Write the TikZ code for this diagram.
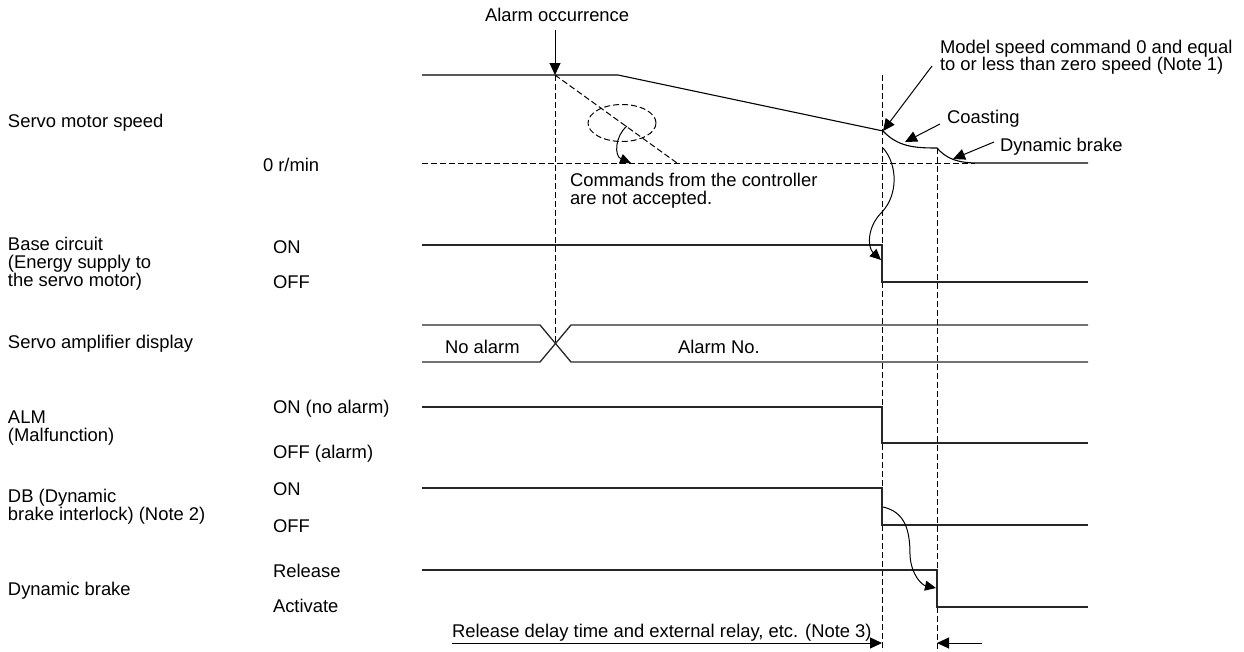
\documentclass[tikz,border=0pt]{standalone}
\usepackage{fontspec}
\setmainfont{Liberation Sans}
\usetikzlibrary{arrows.meta,shapes.geometric}
\begin{document}
\begin{tikzpicture}[x=1pt,y=-1pt,
  lbl/.style={inner sep=0pt, outer sep=0pt, anchor=base west, font=\fontsize{18.4}{18}\selectfont},
  sig/.style={line width=1.3pt, black!85},
  thin/.style={line width=1.1pt, black},
  dsh/.style={line width=1pt, dash pattern=on 6pt off 3pt},
  arr/.style={line width=1pt, -{Triangle[length=12pt,width=11pt]}},
  arrs/.style={line width=1pt, -{Triangle[length=11pt,width=10pt]}}]
\useasboundingbox (0,0) rectangle (1244,651);

% ---------- left labels ----------
\node[lbl] (l1) at (8,127) {Servo motor speed};
\node[lbl] (l2a) at (8,250) {Base circuit};
\node[lbl] (l2b) at (8,268) {(Energy supply to};
\node[lbl] (l2c) at (8,286) {the servo motor)};
\node[lbl] (l3) at (8,348) {Servo amplifier display};
\node[lbl] (l4a) at (8,423) {ALM};
\node[lbl] (l4b) at (8,441) {(Malfunction)};
\node[lbl] (l5a) at (8,502) {DB (Dynamic};
\node[lbl] (l5b) at (8,520) {brake interlock) (Note 2)};
\node[lbl] (l6) at (8,595) {Dynamic brake};

% ---------- level labels ----------
\node[lbl] (v0) at (263,171) {0 r/min};
\node[lbl] (v1) at (273,253) {ON};
\node[lbl] (v2) at (273,288) {OFF};
\node[lbl] (v3) at (273,413) {ON (no alarm)};
\node[lbl] (v4) at (273,458) {OFF (alarm)};
\node[lbl] (v5) at (273,495) {ON};
\node[lbl] (v6) at (273,532) {OFF};
\node[lbl] (v7) at (273,577) {Release};
\node[lbl] (v8) at (273,612) {Activate};

% ---------- key coordinates ----------
\coordinate (ta) at (555,75);     % alarm time on speed line
\coordinate (tx) at (555,343);    % display crossing
\coordinate (b1top) at (882,75);
\coordinate (b1bot) at (882,651);
\coordinate (b2top) at (937,148);
\coordinate (b2bot) at (937,651);

% ---------- dashed guides ----------
\draw[dsh] (ta) -- (tx);
\draw[dsh] (b1top) -- (b1bot);
\draw[dsh] (b2top) -- (b2bot);
\coordinate (z0) at (422,163);
\coordinate (z1) at (975,163);
\draw[dsh] (z0) -- (z1);
\coordinate (dg) at (677,163);
\draw[dsh] (ta) -- (dg);
\node[draw, dsh, ellipse, minimum width=68pt, minimum height=37pt, inner sep=0pt] (el) at (622,123) {};

% ---------- servo motor speed ----------
\coordinate (s0) at (422,75);
\coordinate (s1) at (618,75);
\coordinate (s2) at (883,131);
\coordinate (s3) at (937,148);
\coordinate (s4) at (978,163);
\coordinate (s5) at (1088,163);
\draw[thin] (s0) -- (s1) -- (s2) .. controls (898,147) and (915,148) .. (s3)
  .. controls (946,158) and (956,163) .. (s4) -- (s5);

% ---------- base circuit ----------
\coordinate (bc0) at (422,245);
\coordinate (bc1) at (882,245);
\coordinate (bc2) at (882,282);
\coordinate (bc3) at (1088,282);
\draw[sig] (bc0) -- (bc1) -- (bc2) -- (bc3);

% ---------- display ----------
\coordinate (d0) at (422,325);
\coordinate (d1) at (540,325);
\coordinate (d2) at (571,362);
\coordinate (d3) at (1088,362);
\coordinate (d4) at (422,362);
\coordinate (d5) at (540,362);
\coordinate (d6) at (571,325);
\coordinate (d7) at (1088,325);
\draw[sig] (d0) -- (d1) -- (d2) -- (d3);
\draw[sig] (d4) -- (d5) -- (d6) -- (d7);
\node[lbl] (na) at (445,353) {No alarm};
\node[lbl] (an) at (678,353) {Alarm No.};

% ---------- ALM ----------
\coordinate (a0) at (422,407);
\coordinate (a1) at (882,407);
\coordinate (a2) at (882,443);
\coordinate (a3) at (1088,443);
\draw[sig] (a0) -- (a1) -- (a2) -- (a3);

% ---------- DB ----------
\coordinate (db0) at (422,488);
\coordinate (db1) at (882,488);
\coordinate (db2) at (882,525);
\coordinate (db3) at (1088,525);
\draw[sig] (db0) -- (db1) -- (db2) -- (db3);

% ---------- dynamic brake ----------
\coordinate (dy0) at (422,570);
\coordinate (dy1) at (937,570);
\coordinate (dy2) at (937,607);
\coordinate (dy3) at (1088,607);
\draw[sig] (dy0) -- (dy1) -- (dy2) -- (dy3);

% ---------- annotations ----------
\node[lbl] (ao) at (485,21) {Alarm occurrence};
\coordinate (ao1) at (555,30);
\draw[arr] (ao1) -- (ta);

\node[lbl] (cm1) at (570,186) {Commands from the controller};
\node[lbl] (cm2) at (570,204) {are not accepted.};
\coordinate (el0) at (627,126);
\coordinate (el1) at (631,163);
\draw[arrs] (el0) .. controls (615,136) and (614,156) .. (el1);

\node[lbl] (md1) at (940,53) {Model speed command 0 and equal};
\node[lbl] (md2) at (940,70) {to or less than zero speed (Note 1)};
\coordinate (md0) at (932,66);
\draw[arr] (md0) -- (s2);

\node[lbl] (co) at (947,123) {Coasting};
\coordinate (co0) at (940,124);
\coordinate (co1) at (905,142);
\draw[arr] (co0) -- (co1);

\node[lbl] (dbk) at (1000,151) {Dynamic brake};
\coordinate (dk0) at (994,142);
\coordinate (dk1) at (953,159);
\draw[arr] (dk0) -- (dk1);

% wavy arrow: speed reaches zero -> base circuit off
\coordinate (w0) at (883,148);
\coordinate (w1) at (882,212);
\coordinate (w2) at (881,260);
\draw[arrs] (w0) .. controls (898,165) and (898,195) .. (w1)
  .. controls (866,228) and (868,248) .. (w2);

% DB off -> dynamic brake activate
\coordinate (q0) at (883,507);
\coordinate (q1) at (910,555);
\coordinate (q2) at (936,588);
\draw[arrs] (q0) .. controls (905,512) and (910,530) .. (q1)
  .. controls (911,575) and (922,585) .. (q2);

% ---------- release delay ----------
\node[lbl] (rd) at (452,637) {Release delay time and external relay, etc. (Note 3)};
\coordinate (r0) at (452,643);
\coordinate (r1) at (882,643);
\coordinate (r2) at (982,643);
\coordinate (r3) at (937,643);
\draw[arr] (r0) -- (r1);
\draw[arr] (r2) -- (r3);
\end{tikzpicture}
\end{document}
